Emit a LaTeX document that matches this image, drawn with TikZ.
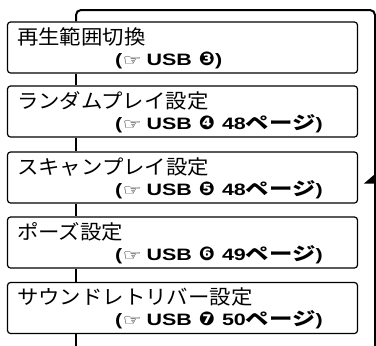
\documentclass[tikz,border=0pt]{standalone}
\usepackage{fontspec}
\setmainfont{Noto Sans CJK JP}
\newfontfamily\jp[FakeStretch=1.07]{Noto Sans CJK JP}
\newfontfamily\jpw[FakeStretch=1.3]{Noto Sans CJK JP}
\newfontfamily\lat[FakeStretch=1.3]{Liberation Sans}
\newfontfamily\sym{DejaVu Sans}
\newfontfamily\symw[FakeStretch=1.4]{DejaVu Sans}
\newcommand{\refpre}[1]{\fontsize{16.5}{19}\selectfont\lat\bfseries(\hspace{0.5pt}{\symw\fontsize{15}{16}\selectfont ☞}\hspace{5pt}USB\hspace{7pt}{\sym\fontsize{19}{19}\selectfont #1}}
\newcommand{\refpage}[1]{\hspace{7pt}#1{\jpw\bfseries\fontsize{18}{19}\selectfont ページ}}
\begin{document}
\begin{tikzpicture}[x=1pt,y=-1pt,
  box/.style={draw,line width=1.2pt,rounded corners=3pt,minimum width=350pt,minimum height=51pt,inner sep=0pt},
  tline/.style={anchor=base west,inner sep=0pt,font=\jp\fontsize{20}{24}\selectfont},
  rline/.style={anchor=base west,inner sep=0pt},
  conn/.style={line width=2pt}]
\useasboundingbox (0,0) rectangle (376,346);
\node[box] (b1) at (182.5,47.5) {};
\node[box] (b2) at (182.5,111.5) {};
\node[box] (b3) at (182.5,177.5) {};
\node[box] (b4) at (182.5,242.5) {};
\node[box] (b5) at (182.5,308) {};
\node[tline] (t1) at (17,44) {再生範囲切換};
\node[rline] (r1) at (115,65) {\refpre{❸})};
\node[tline] (t2) at (17,108) {ランダムプレイ設定};
\node[rline] (r2) at (115,129) {\refpre{❹}\refpage{48})};
\node[tline] (t3) at (17,174) {スキャンプレイ設定};
\node[rline] (r3) at (115,195) {\refpre{❺}\refpage{48})};
\node[tline] (t4) at (17,239) {ポーズ設定};
\node[rline] (r4) at (115,260) {\refpre{❻}\refpage{49})};
\node[tline] (t5) at (17,304) {サウンドレトリバー設定};
\node[rline] (r5) at (115,325) {\refpre{❼}\refpage{50})};
\coordinate (tl) at (76,10);
\coordinate (tr) at (375,10);
\coordinate (br) at (375,347);
\coordinate (bl) at (76,347);
\draw[conn] (b1.south -| tl) -- (b2.north -| tl);
\draw[conn] (b2.south -| tl) -- (b3.north -| tl);
\draw[conn] (b3.south -| tl) -- (b4.north -| tl);
\draw[conn] (b4.south -| tl) -- (b5.north -| tl);
\draw[conn] (b5.south -| tl) -- (bl);
\draw[conn,rounded corners=5pt] (b1.north -| tl) -- (tl) -- (tr) -- (br);
\fill (375,174) -- (364,183.5) -- (375,183.5) -- cycle;
\end{tikzpicture}
\end{document}
